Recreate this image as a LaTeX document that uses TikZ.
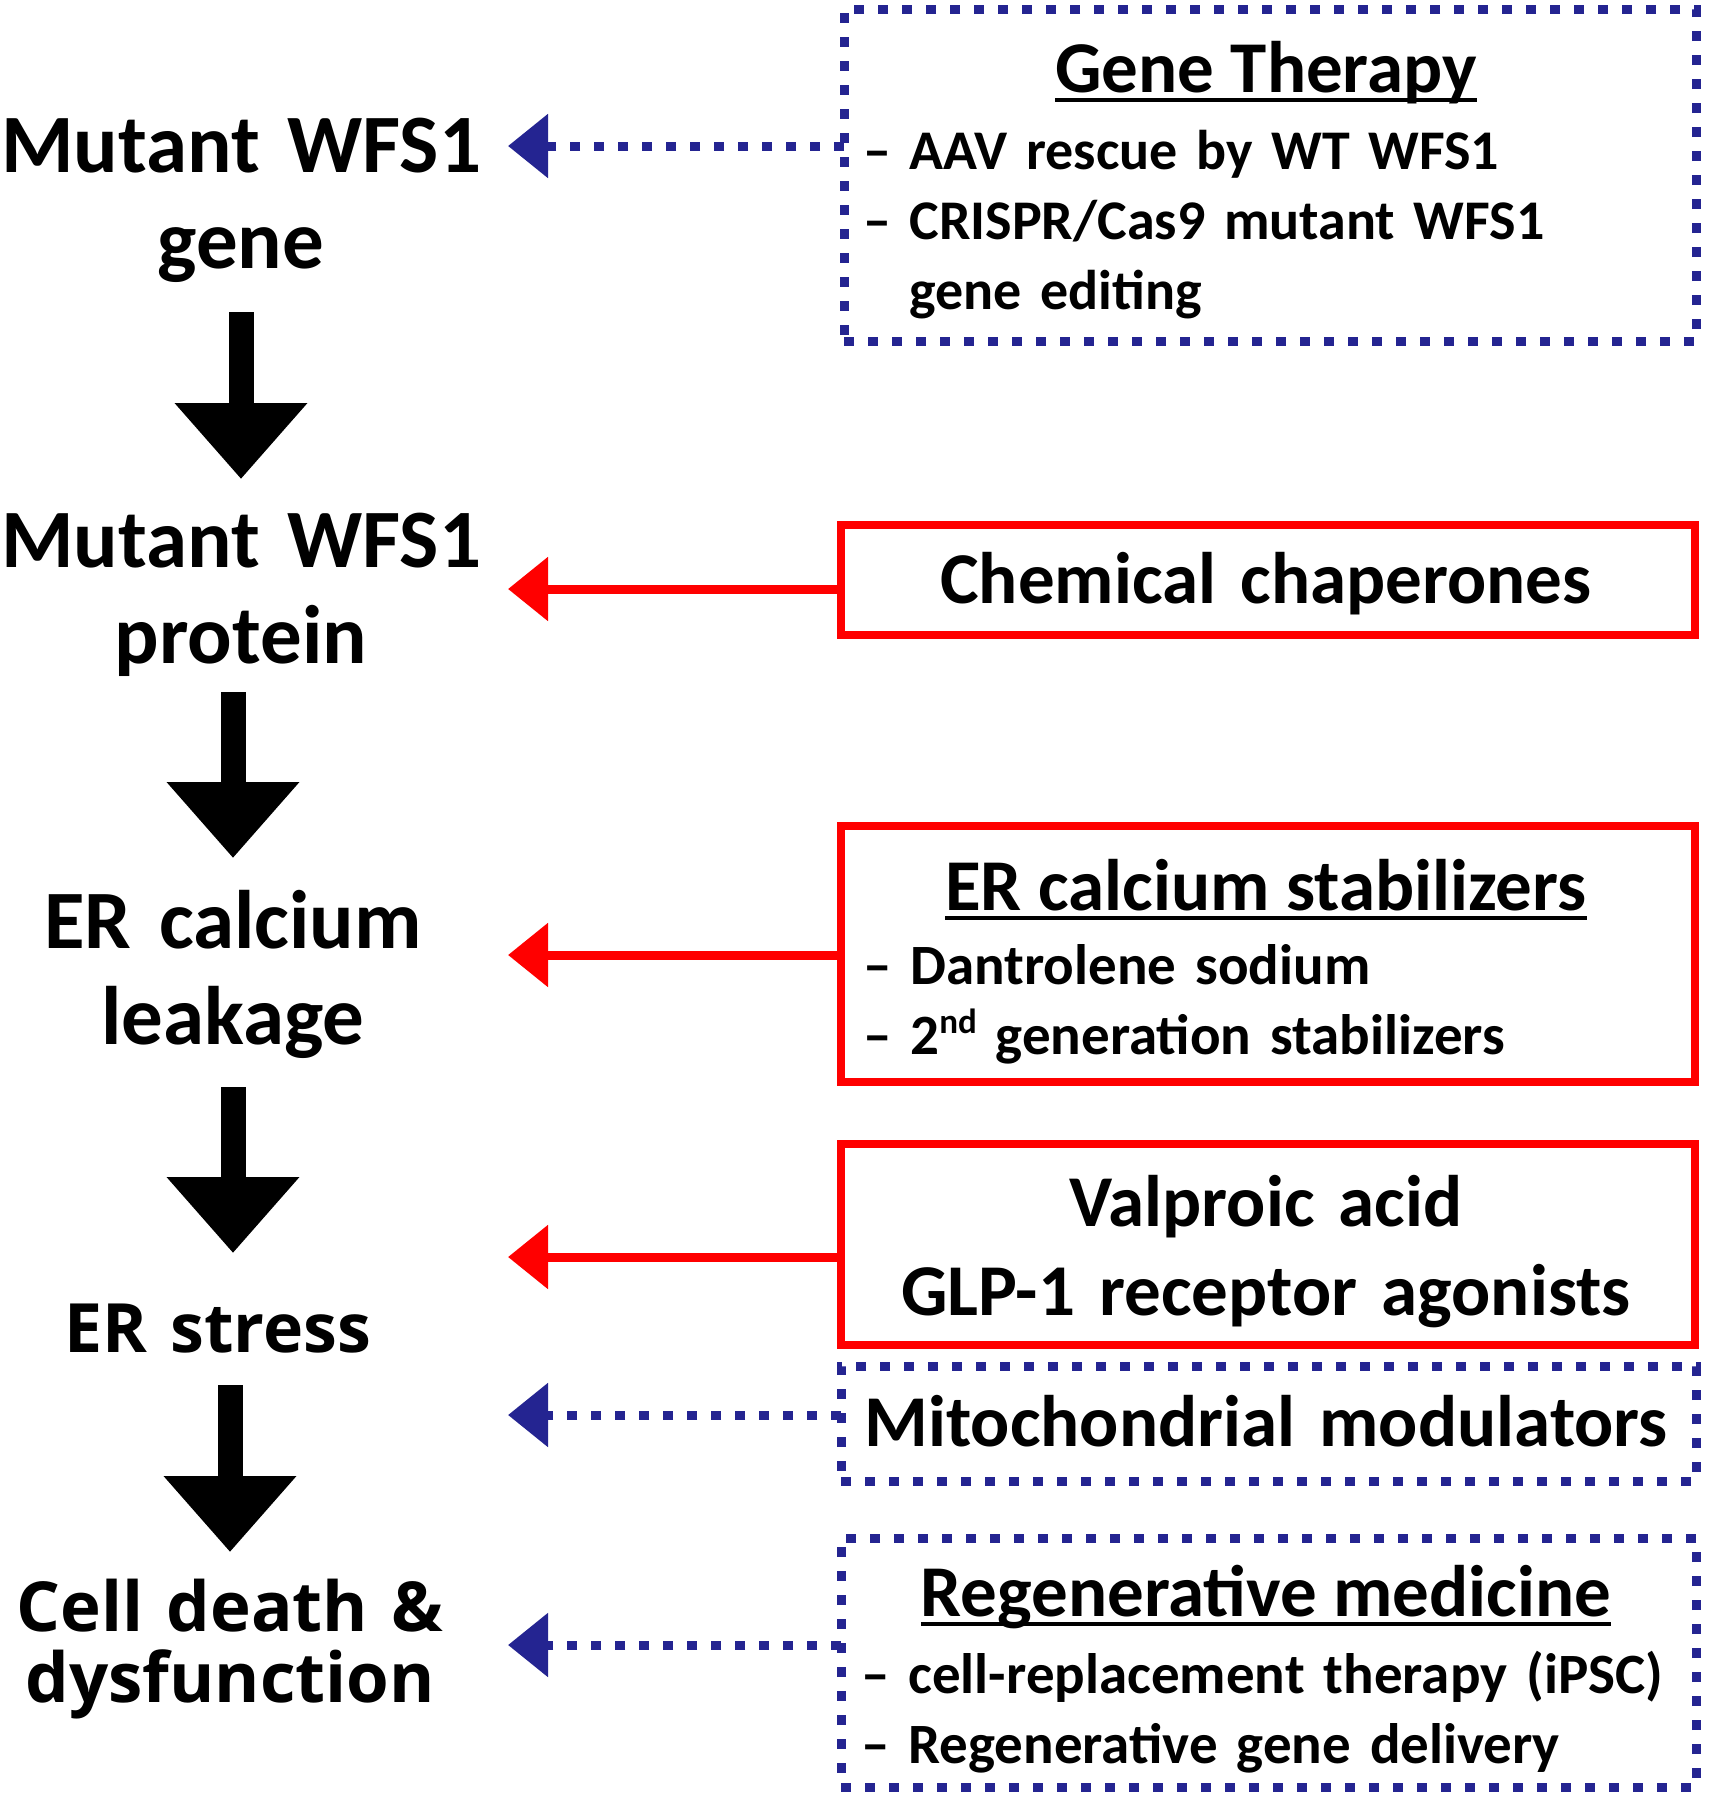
\documentclass[tikz,border=0pt]{standalone}
\usepackage{fontspec}
\setmainfont{Carlito}
\newfontfamily\osans{Open Sans}
\usetikzlibrary{arrows.meta}
\definecolor{navy}{RGB}{36,36,145}
\definecolor{pure}{RGB}{255,0,0}
\newcommand{\supnd}{\raisebox{21pt}{\fontsize{35}{35}\selectfont nd}}
\begin{document}
\begin{tikzpicture}[x=1pt,y=-1pt,
  every node/.style={inner sep=0pt, outer sep=0pt},
  lbl/.style={font=\bfseries\fontsize{83}{96}\selectfont, text width=600pt, align=center, anchor=base},
  lbltwo/.style={font=\osans\bfseries\fontsize{69}{71}\selectfont, text width=600pt, align=center, anchor=base},
  head/.style={font=\bfseries\fontsize{73}{89}\selectfont, anchor=base, text width=850pt, align=center},
  bul/.style={font=\bfseries\fontsize{57}{70}\selectfont, anchor=base west, align=left, text width=820pt},
  redbox/.style={draw=pure, line width=8pt, anchor=north west},
  bluebox/.style={draw=navy, line width=9pt, dash pattern=on 10pt off 14pt, anchor=north west},
  redarr/.style={draw=pure, line width=9pt, -{Triangle[length=40pt,width=62pt]}},
  bluearr/.style={draw=navy, line width=9pt, dash pattern=on 10pt off 14pt, -{Triangle[length=40pt,width=62pt]}},
  blkarr/.style={line width=25pt, -{Triangle[length=76pt,width=128pt]}},
  uline/.style={line width=4pt}
]
\fill[white] (0,0) rectangle (1710,1800);
\useasboundingbox (0,0) rectangle (1710,1800);

% left chain
\node[lbl] (gene) at (241,172) {Mutant WFS1\\gene};
\node[lbl] (prot) at (241,567) {Mutant WFS1\\protein};
\node[lbl] (leak) at (233,948) {ER calcium\\leakage};
\node[lbltwo, font=\osans\bfseries\fontsize{68}{71}\selectfont] (stress) at (218,1352) {ER stress};
\node[lbltwo] (death) at (230,1631) {Cell death \&\\dysfunction};

\coordinate (a1s) at (241,312); \coordinate (a1e) at (241,479);
\coordinate (a2s) at (233,692); \coordinate (a2e) at (233,858);
\coordinate (a3s) at (233,1087); \coordinate (a3e) at (233,1253);
\coordinate (a4s) at (230,1385); \coordinate (a4e) at (230,1552);
\draw[blkarr] (a1s) -- (a1e);
\draw[blkarr] (a2s) -- (a2e);
\draw[blkarr] (a3s) -- (a3e);
\draw[blkarr] (a4s) -- (a4e);

% boxes
\node[bluebox, minimum width=852pt, minimum height=332pt] (gt) at (844,9) {};
\node[redbox, minimum width=854pt, minimum height=110pt] (cc) at (841,525) {};
\node[redbox, minimum width=854pt, minimum height=256pt] (er) at (841,826) {};
\node[redbox, minimum width=854pt, minimum height=201pt] (vp) at (841,1144) {};
\node[bluebox, minimum width=855pt, minimum height=115pt] (mm) at (841,1366) {};
\node[bluebox, minimum width=855pt, minimum height=249pt] (rm) at (841,1538) {};

% box texts
\node[head, text width=] (gtT) at (1266,92) {Gene Therapy};
\draw[uline] ([yshift=-8pt]gtT.base west) -- ([yshift=-8pt]gtT.base east);
\node[bul, font=\bfseries\fontsize{56}{70}\selectfont] (gtB) at (863,169) {– AAV rescue by WT WFS1\\– CRISPR/Cas9 mutant WFS1\\\phantom{– }gene editing};
\node[head] (ccT) at (1266,603) {Chemical chaperones};
\node[head, text width=] (erT) at (1266,910) {ER calcium stabilizers};
\draw[uline] ([yshift=-8pt]erT.base west) -- ([yshift=-8pt]erT.base east);
\node[bul] (erB) at (863,984) {– Dantrolene sodium\\– 2\supnd\ generation stabilizers};
\node[head] (vpT) at (1266,1226) {Valproic acid\\GLP-1 receptor agonists};
\node[head] (mmT) at (1266,1446) {Mitochondrial modulators};
\node[head, text width=] (rmT) at (1266,1616) {Regenerative medicine};
\draw[uline] ([yshift=-8pt]rmT.base west) -- ([yshift=-8pt]rmT.base east);
\node[bul] (rmB) at (861,1693) {– cell-replacement therapy (iPSC)\\– Regenerative gene delivery};

% connectors
\coordinate (t1) at (508,146);
\coordinate (t2) at (508,589);
\coordinate (t3) at (508,955);
\coordinate (t4) at (508,1257);
\coordinate (t5) at (508,1415);
\coordinate (t6) at (508,1645);
\draw[bluearr] (gt.west |- t1) -- (t1);
\draw[redarr] (cc.west |- t2) -- (t2);
\draw[redarr] (er.west |- t3) -- (t3);
\draw[redarr] (vp.west |- t4) -- (t4);
\draw[bluearr] (mm.west |- t5) -- (t5);
\draw[bluearr] (rm.west |- t6) -- (t6);
\end{tikzpicture}
\end{document}
